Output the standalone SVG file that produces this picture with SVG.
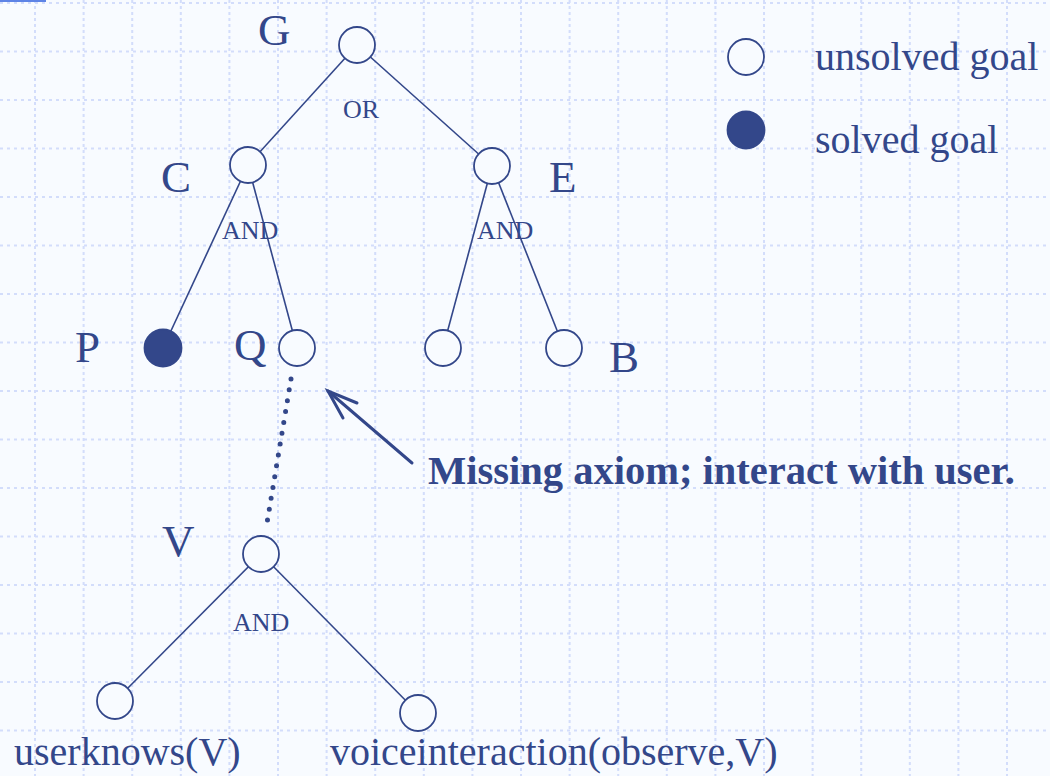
<svg xmlns="http://www.w3.org/2000/svg" width="1050" height="776" viewBox="0 0 1050 776">
<style>
.bg{fill:#f8fbff}
.gv{stroke:#d3ddfb;stroke-width:2;stroke-dasharray:3 3}
.gh{stroke:#d3ddfb;stroke-width:2;stroke-dasharray:3 4}
.edge{stroke:#33478a;stroke-width:1.6;fill:none}
.open{fill:#f8fbff;stroke:#33478a;stroke-width:1.8}
.solved{fill:#33478a;stroke:#33478a;stroke-width:1.8}
.t{font-family:"Liberation Serif","Times New Roman",serif;fill:#33478a}
.big{font-size:45px}
.lab{font-size:40px}
.op{font-size:26px}
</style>
<rect class="bg" x="0" y="0" width="1050" height="776"/>
<g id="grid">
<line class="gv" x1="35" y1="0" x2="35" y2="776"/>
<line class="gv" x1="83.6" y1="0" x2="83.6" y2="776"/>
<line class="gv" x1="132.2" y1="0" x2="132.2" y2="776"/>
<line class="gv" x1="180.8" y1="0" x2="180.8" y2="776"/>
<line class="gv" x1="229.4" y1="0" x2="229.4" y2="776"/>
<line class="gv" x1="278" y1="0" x2="278" y2="776"/>
<line class="gv" x1="326.6" y1="0" x2="326.6" y2="776"/>
<line class="gv" x1="375.2" y1="0" x2="375.2" y2="776"/>
<line class="gv" x1="423.8" y1="0" x2="423.8" y2="776"/>
<line class="gv" x1="472.4" y1="0" x2="472.4" y2="776"/>
<line class="gv" x1="521" y1="0" x2="521" y2="776"/>
<line class="gv" x1="569.6" y1="0" x2="569.6" y2="776"/>
<line class="gv" x1="618.2" y1="0" x2="618.2" y2="776"/>
<line class="gv" x1="666.8" y1="0" x2="666.8" y2="776"/>
<line class="gv" x1="715.4" y1="0" x2="715.4" y2="776"/>
<line class="gv" x1="764" y1="0" x2="764" y2="776"/>
<line class="gv" x1="812.6" y1="0" x2="812.6" y2="776"/>
<line class="gv" x1="861.2" y1="0" x2="861.2" y2="776"/>
<line class="gv" x1="909.8" y1="0" x2="909.8" y2="776"/>
<line class="gv" x1="958.4" y1="0" x2="958.4" y2="776"/>
<line class="gv" x1="1007" y1="0" x2="1007" y2="776"/>
<line class="gh" x1="0" y1="3" x2="1050" y2="3"/>
<line class="gh" x1="0" y1="51.5" x2="1050" y2="51.5"/>
<line class="gh" x1="0" y1="100" x2="1050" y2="100"/>
<line class="gh" x1="0" y1="148.5" x2="1050" y2="148.5"/>
<line class="gh" x1="0" y1="197" x2="1050" y2="197"/>
<line class="gh" x1="0" y1="245.5" x2="1050" y2="245.5"/>
<line class="gh" x1="0" y1="294" x2="1050" y2="294"/>
<line class="gh" x1="0" y1="342.5" x2="1050" y2="342.5"/>
<line class="gh" x1="0" y1="391" x2="1050" y2="391"/>
<line class="gh" x1="0" y1="439.5" x2="1050" y2="439.5"/>
<line class="gh" x1="0" y1="488" x2="1050" y2="488"/>
<line class="gh" x1="0" y1="536.5" x2="1050" y2="536.5"/>
<line class="gh" x1="0" y1="585" x2="1050" y2="585"/>
<line class="gh" x1="0" y1="633.5" x2="1050" y2="633.5"/>
<line class="gh" x1="0" y1="682" x2="1050" y2="682"/>
<line class="gh" x1="0" y1="730.5" x2="1050" y2="730.5"/>
<line x1="0" y1="1" x2="46" y2="1" stroke="#5e84e6" stroke-width="2"/>
</g>
<g id="connectors">
<line class="edge" x1="357" y1="45" x2="248" y2="165"/>
<line class="edge" x1="357" y1="45" x2="492" y2="166"/>
<line class="edge" x1="248" y1="165" x2="163" y2="348"/>
<line class="edge" x1="248" y1="165" x2="297" y2="348"/>
<line class="edge" x1="492" y1="166" x2="443" y2="348"/>
<line class="edge" x1="492" y1="166" x2="564" y2="348"/>
<line class="edge" x1="261" y1="554" x2="115" y2="701"/>
<line class="edge" x1="261" y1="554" x2="418" y2="713"/>
<line x1="291" y1="379" x2="267" y2="523" stroke="#33478a" stroke-width="5" stroke-linecap="round" stroke-dasharray="0 11"/>
<g id="arrow" stroke="#33478a" stroke-width="3" fill="none" stroke-linecap="round">
<line x1="412" y1="463" x2="328" y2="391"/>
<polyline points="357,403 328,391 343,418"/>
</g>
</g>
<g id="node-G"><circle class="open" cx="357" cy="45" r="18"/><text class="t big" x="258" y="45">G</text></g>
<g id="op-OR"><text class="t op" x="343" y="118">OR</text></g>
<g id="node-C"><circle class="open" cx="248" cy="165" r="18"/><text class="t big" x="161" y="192">C</text></g>
<g id="op-C-AND"><text class="t op" x="222" y="239">AND</text></g>
<g id="node-E"><circle class="open" cx="492" cy="166" r="18"/><text class="t big" x="549" y="192">E</text></g>
<g id="op-E-AND"><text class="t op" x="477" y="239">AND</text></g>
<g id="node-P"><circle class="solved" cx="163" cy="348" r="18.5"/><text class="t big" x="75" y="362">P</text></g>
<g id="node-Q"><circle class="open" cx="297" cy="348" r="18"/><text class="t big" x="234" y="360">Q</text></g>
<g id="node-E1"><circle class="open" cx="443" cy="348" r="18"/></g>
<g id="node-B"><circle class="open" cx="564" cy="348" r="18"/><text class="t big" x="609" y="372">B</text></g>
<g id="node-V"><circle class="open" cx="261" cy="554" r="18"/><text class="t big" x="162" y="556">V</text></g>
<g id="op-V-AND"><text class="t op" x="233" y="631">AND</text></g>
<g id="node-userknows"><circle class="open" cx="115" cy="701" r="18"/><text class="t lab" x="14" y="765">userknows(V)</text></g>
<g id="node-voice"><circle class="open" cx="418" cy="713" r="18"/><text class="t lab" x="330" y="765">voiceinteraction(observe,V)</text></g>
<g id="note"><text class="t" x="428" y="484" font-size="40.5" font-weight="bold" textLength="587" lengthAdjust="spacingAndGlyphs">Missing axiom; interact with user.</text></g>
<g id="legend">
<circle class="open" cx="746" cy="57" r="18"/><text class="t lab" x="815" y="70">unsolved goal</text>
<circle class="solved" cx="746" cy="130" r="18.5"/><text class="t lab" x="815" y="153">solved goal</text>
</g>
</svg>
